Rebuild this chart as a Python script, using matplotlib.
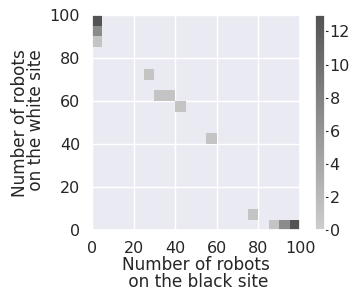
import numpy as np
import matplotlib
matplotlib.use("Agg")
import matplotlib.pyplot as plt
from matplotlib.colors import LinearSegmentedColormap
import seaborn as sns

# occupied bins (lower edges, bin width 5) and their counts
black_bins = [0, 0, 0, 25, 30, 35, 40, 55, 75, 85, 90, 95]
white_bins = [95, 90, 85, 70, 60, 60, 55, 40, 5, 0, 0, 0]
counts = [13, 7, 1, 1, 1, 1, 1, 1, 1, 1, 7, 13]

sns.set_theme(style="darkgrid")
plt.rcParams['font.family'] = ['DejaVu Sans']

fig = plt.figure(figsize=(3.51, 2.92), dpi=100)
ax = fig.add_axes([0.262, 0.211, 0.593, 0.738])
cax = fig.add_axes([0.897, 0.211, 0.0285, 0.738])

cmap = LinearSegmentedColormap.from_list("greys", ["#cdcdcd", "#535353"])
xc = np.array(black_bins) + 2.5
yc = np.array(white_bins) + 2.5
h = ax.hist2d(xc, yc, bins=20, range=[[0, 100], [0, 100]], weights=counts,
              cmin=1, cmap=cmap, vmin=0, vmax=13)

ax.set_xlim(0, 100)
ax.set_ylim(0, 100)
ax.set_xticks([0, 20, 40, 60, 80, 100])
ax.set_yticks([0, 20, 40, 60, 80, 100])
ax.tick_params(axis="x", labelsize=11.5, pad=1.5)
ax.tick_params(axis="y", labelsize=11.5, pad=2.5)
ax.set_xlabel("Number of robots\n on the black site", fontsize=12.2,
              labelpad=0.5, linespacing=0.88)
ax.set_ylabel("Number of robots\n on the white site", fontsize=12.2,
              labelpad=3, linespacing=0.9)
ax.set_axisbelow(True)

cb = fig.colorbar(h[3], cax=cax)
cb.set_ticks([0, 2, 4, 6, 8, 10, 12])
cax.tick_params(length=2, width=0.8, pad=1.5, labelsize=11.5)

fig.savefig("out.png", dpi=100)
